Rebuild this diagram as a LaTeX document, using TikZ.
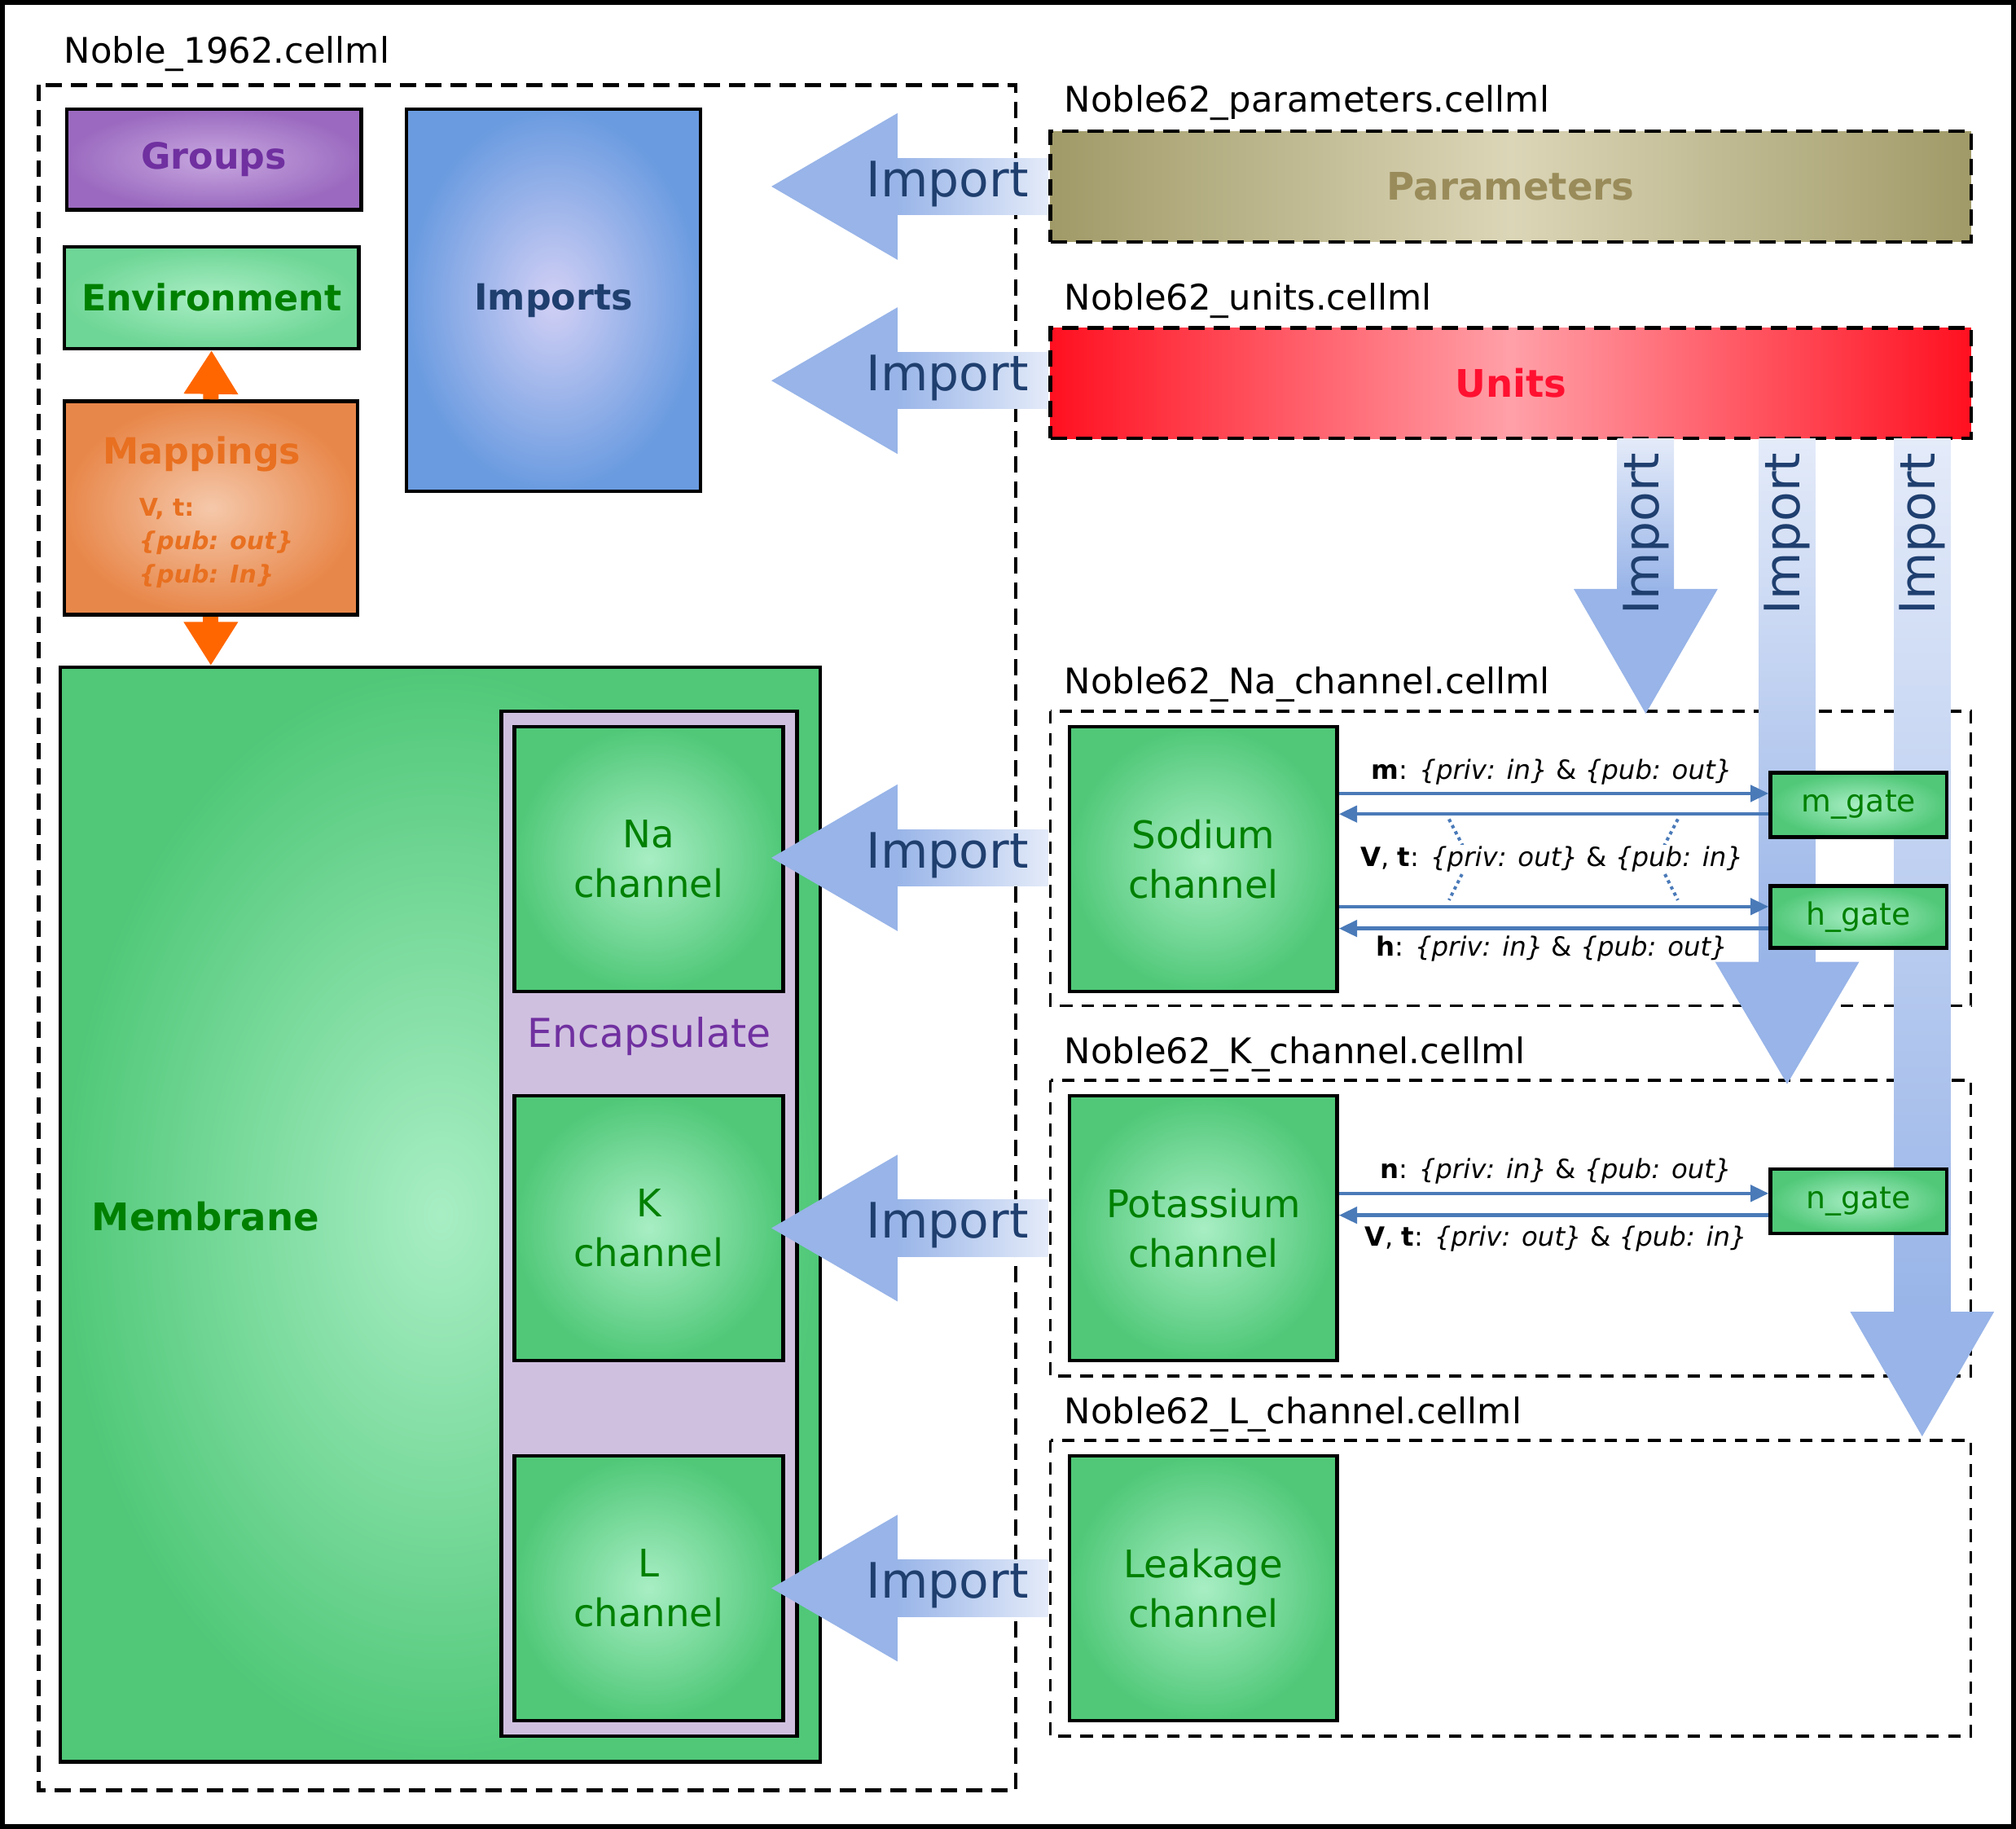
\documentclass[tikz,border=0pt]{standalone}
\usepackage{fontspec}
\setmainfont{DejaVu Sans}
\usetikzlibrary{arrows.meta,shadings}
\definecolor{impblue}{HTML}{98B4E8}
\definecolor{implight}{HTML}{E4EBF9}
\definecolor{imptext}{HTML}{1F3F6F}
\definecolor{gdark}{HTML}{50C878}
\definecolor{glight}{HTML}{A8EEC4}
\definecolor{gtext}{HTML}{008000}
\definecolor{ptext}{HTML}{7030A0}
\definecolor{otext}{HTML}{E87020}
\definecolor{arr}{HTML}{4A7AB8}
\newcommand{\fs}[1]{\fontsize{#1}{\the\dimexpr#1pt*13/10\relax}\selectfont}
\newcommand{\bx}[7]{\node[#6, minimum width={(#4-#2)*0.025cm}, minimum height={(#5-#3)*0.025cm}] (#1) at ({(#2+#4)/2},{(#3+#5)/2}) {#7};}
\newcommand{\impL}[1]{%
  \fill[impblue] (600,#1) -- (698,#1-57) -- (698,#1+57) -- cycle;
  \shade[left color=impblue,right color=implight] (697,#1-22) rectangle (815,#1+22);
  \node[imptext,font=\fs{27}] at (737,#1-2) {Import};}
\newcommand{\impD}[4]{% x center, shaft bottom, tip, name
  \shade[top color=implight,bottom color=impblue] (#1-22,341) rectangle (#1+22,#2+1);
  \fill[impblue] (#1,#3) -- (#1-56,#2) -- (#1+56,#2) -- cycle;
  \node[imptext,font=\fs{27},rotate=90] (#4) at (#1,415) {Import};}
\begin{document}
\begin{tikzpicture}[x=0.025cm,y=-0.025cm,
  box/.style={draw=black,line width=2pt,inner sep=0pt,align=center},
  green/.style={box,inner color=glight,outer color=gdark,text=gtext},
  file/.style={draw=black,line width=1.6pt,dash pattern=on 9pt off 5pt},
  lab/.style={anchor=west,font=\fs{19.5}},
  conn/.style={draw=arr,line width=2pt,-{Triangle[length=10pt,width=9pt]}},
  elab/.style={font=\fs{14.6}},
  orar/.style={draw={rgb,255:red,255;green,102;blue,0},line width=0.3cm,-{Triangle[length=0.85cm,width=1cm]}}]
\useasboundingbox (0,0) rectangle (1568,1422);
\draw[line width=3pt] (1.5,1.5) rectangle (1566.5,1420.5);
% main file
\node[lab] (lmain) at (45,42) {Noble\_1962.cellml};
\draw[file,line width=2.2pt] (30,66) rectangle (790,1392);
\bx{groups}{52}{85}{281}{163}{box,inner color={rgb,255:red,200;green,168;blue,224},outer color={rgb,255:red,155;green,106;blue,192},text=ptext,font=\fs{20}\bfseries}{Groups}
\bx{env}{50}{192}{279}{271}{box,inner color={rgb,255:red,170;green,238;blue,196},outer color={rgb,255:red,110;green,214;blue,150},text=gtext,font=\fs{20}\bfseries}{Environment}
\bx{map}{50}{312}{278}{478}{box,inner color={rgb,255:red,245;green,200;blue,170},outer color={rgb,255:red,232;green,135;blue,74}}{}
\node[otext,font=\fs{20}\bfseries] (maptitle) at (157,353) {Mappings};
\node[otext,font=\fontsize{13.5}{18.5}\selectfont\bfseries,anchor=north west,align=left,inner sep=0pt] (mapvars) at (108,387) {V, t:\\ \itshape\{pub: out\}\\ \itshape\{pub: In\}};
\bx{imports}{316}{85}{545}{382}{box,inner color={rgb,255:red,210;green,208;blue,245},outer color={rgb,255:red,106;green,155;blue,224},text=imptext,font=\fs{20}\bfseries}{Imports}
\bx{membrane}{47}{519}{638}{1370}{green}{}
\node[gtext,font=\fs{21}\bfseries] (memlab) at (160,946) {Membrane};
\bx{encap}{390}{553}{620}{1350}{box,fill={rgb,255:red,208;green,192;blue,224}}{}
\node[ptext,font=\fs{22}] (encaplab) at (505,806) {Encapsulate};
\bx{na}{400}{565}{609}{771}{green,font=\fs{21}}{Na\\channel}
\bx{k}{400}{852}{609}{1058}{green,font=\fs{21}}{K\\channel}
\bx{l}{400}{1132}{609}{1338}{green,font=\fs{21}}{L\\channel}
\draw[orar] (map.north) -- (env.south);
\draw[orar] (map.south) -- (map.south |- membrane.north);
% right files
\node[lab] (lpar) at (823,80) {Noble62\_parameters.cellml};
\bx{params}{817}{102}{1533}{188}{box,dash pattern=on 9pt off 5pt,left color={rgb,255:red,160;green,154;blue,104},right color={rgb,255:red,160;green,154;blue,104},middle color={rgb,255:red,220;green,214;blue,184},text={rgb,255:red,154;green,140;blue,90},font=\fs{21}\bfseries}{Parameters}
\node[lab] (lunits) at (823,234) {Noble62\_units.cellml};
\bx{units}{817}{255}{1533}{341}{box,dash pattern=on 9pt off 5pt,left color={rgb,255:red,255;green,16;blue,32},right color={rgb,255:red,255;green,16;blue,32},middle color={rgb,255:red,255;green,160;blue,168},text={rgb,255:red,255;green,16;blue,48},font=\fs{21}\bfseries}{Units}
\impL{145}
\impL{296}
\impL{667}
\impL{955}
\impL{1235}
\node[lab] (lna) at (823,532) {Noble62\_Na\_channel.cellml};
\draw[file,line width=1.5pt,dash pattern=on 7pt off 5pt] (817,553) rectangle (1533,782);
\node[lab] (lk) at (823,820) {Noble62\_K\_channel.cellml};
\draw[file,line width=1.5pt,dash pattern=on 7pt off 5pt] (817,840) rectangle (1533,1070);
\node[lab] (ll) at (823,1100) {Noble62\_L\_channel.cellml};
\draw[file,line width=1.5pt,dash pattern=on 7pt off 5pt] (817,1120) rectangle (1533,1350);
\impD{1280}{458}{555}{i1}
\impD{1390}{748}{843}{i2}
\impD{1495}{1020}{1117}{i3}
\bx{sodium}{832}{565}{1040}{771}{green,font=\fs{21}}{Sodium\\channel}
\bx{potassium}{832}{852}{1040}{1058}{green,font=\fs{21}}{Potassium\\channel}
\bx{leak}{832}{1132}{1040}{1338}{green,font=\fs{21}}{Leakage\\channel}
\bx{mgate}{1377}{601}{1514}{651}{green,font=\fs{17}}{m\_gate}
\bx{hgate}{1377}{689}{1514}{737}{green,font=\fs{17}}{h\_gate}
\bx{ngate}{1377}{909}{1514}{959}{green,font=\fs{17}}{n\_gate}
\draw[conn] (sodium.east |- 0,617) -- (mgate.west |- 0,617);
\draw[conn] (mgate.west |- 0,633) -- (sodium.east |- 0,633);
\draw[conn] (sodium.east |- 0,705) -- (hgate.west |- 0,705);
\draw[conn] (hgate.west |- 0,722) -- (sodium.east |- 0,722);
\draw[arr,line width=1.8pt,dotted] (1127,637) -- (1143,668) -- (1127,700);
\draw[arr,line width=1.8pt,dotted] (1305,637) -- (1289,668) -- (1305,700);
\node[elab,fill=white,inner sep=1pt] (vl) at (1207,668) {\textbf{V}, \textbf{t}: \textit{\{priv: out\}} \& \textit{\{pub: in\}}};
\node[elab] (ml) at (1207,600) {\textbf{m}: \textit{\{priv: in\}} \& \textit{\{pub: out\}}};
\node[elab] (hl) at (1207,738) {\textbf{h}: \textit{\{priv: in\}} \& \textit{\{pub: out\}}};
\draw[conn] (potassium.east |- 0,928) -- (ngate.west |- 0,928);
\draw[conn] (ngate.west |- 0,945) -- (potassium.east |- 0,945);
\node[elab] (nl) at (1210,911) {\textbf{n}: \textit{\{priv: in\}} \& \textit{\{pub: out\}}};
\node[elab] (vkl) at (1210,963) {\textbf{V}, \textbf{t}: \textit{\{priv: out\}} \& \textit{\{pub: in\}}};
\end{tikzpicture}
\end{document}
